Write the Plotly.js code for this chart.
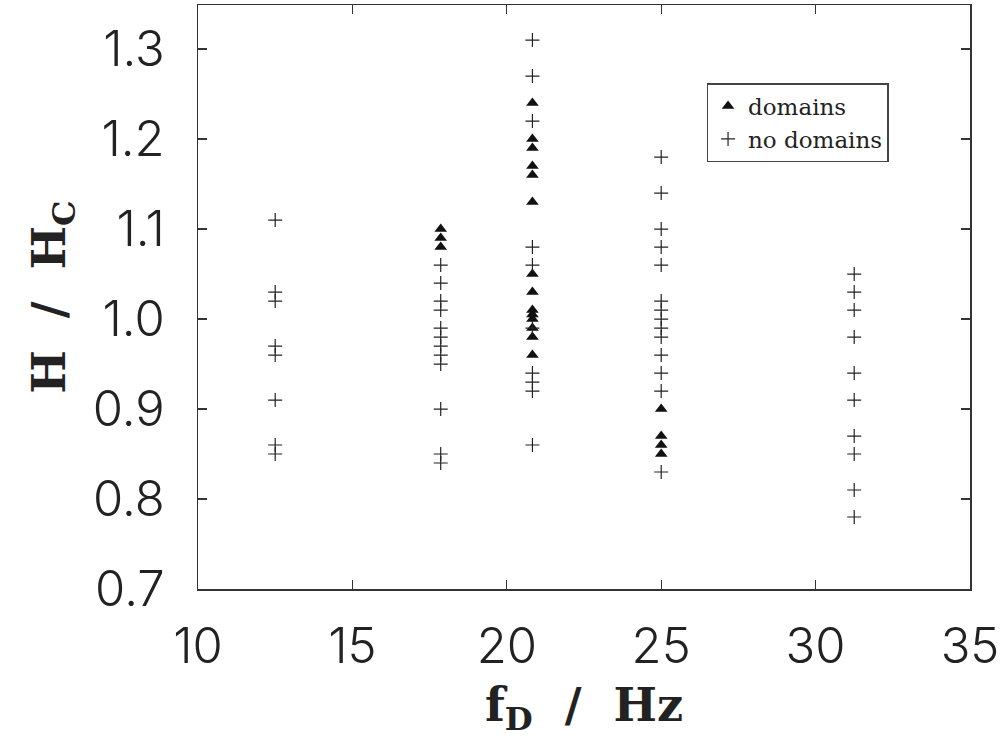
<!DOCTYPE html>
<html>
<head>
<meta charset="utf-8">
<script src="https://cdn.plot.ly/plotly-3.0.1.min.js"></script>
<style>html,body{margin:0;padding:0;background:#fff;}#chart{width:1003px;height:750px;}</style>
</head>
<body>
<div id="chart"></div>
<script>
// frequencies (Hz)
const freqDomains = [17.86,17.86,17.86,
  20.83,20.83,20.83,20.83,20.83,20.83,20.83,20.83,20.83,20.83,20.83,20.83,20.83,20.83,
  25,25,25,25];
const hDomains = [1.10,1.09,1.08,
  1.24,1.20,1.19,1.17,1.16,1.13,1.05,1.03,1.01,1.00,0.99,0.98,0.96,1.005,
  0.90,0.87,0.86,0.85];

const freqNoDomains = [12.5,12.5,12.5,12.5,12.5,12.5,12.5,12.5,
  17.86,17.86,17.86,17.86,17.86,17.86,17.86,17.86,17.86,17.86,17.86,17.86,
  20.83,20.83,20.83,20.83,20.83,20.83,20.83,20.83,20.83,20.83,
  25,25,25,25,25,25,25,25,25,25,25,25,25,25,
  31.25,31.25,31.25,31.25,31.25,31.25,31.25,31.25,31.25,31.25];
const hNoDomains = [1.11,1.03,1.02,0.97,0.96,0.91,0.86,0.85,
  1.06,1.04,1.02,1.01,0.99,0.98,0.97,0.96,0.95,0.90,0.85,0.84,
  1.31,1.27,1.22,1.08,1.06,0.99,0.94,0.93,0.92,0.86,
  1.18,1.14,1.10,1.08,1.06,1.02,1.01,1.00,0.99,0.98,0.96,0.94,0.92,0.83,
  1.05,1.03,1.01,0.98,0.94,0.91,0.87,0.85,0.81,0.78];

const xTicks = [10,15,20,25,30,35];
const yTicks = [0.7,0.8,0.9,1.0,1.1,1.2,1.3];
const yTickText = ['0.7','0.8','0.9','1.0','1.1','1.2','1.3'];

const traces = [
  {x: freqDomains, y: hDomains, mode:'markers', type:'scatter', name:'domains',
   marker:{symbol:'triangle-up', size:11, color:'#111'}},
  {x: freqNoDomains, y: hNoDomains, mode:'markers', type:'scatter', name:'no domains',
   marker:{symbol:'cross-thin-open', size:10, color:'#222', line:{width:1.2, color:'#222'}}}
];

const tickFont = {family:'Inter, "DejaVu Sans", sans-serif', size:49, color:'#222', weight:300};
const titleFont = {family:'"DejaVu Serif", "Liberation Serif", serif', size:46, color:'#222', weight:'bold'};

const layout = {
  width:1003, height:750,
  margin:{l:198, r:33, t:5, b:161},
  paper_bgcolor:'#fff', plot_bgcolor:'#fff',
  showlegend:true,
  legend:{x:0.659, y:0.866, xanchor:'left', yanchor:'top', bgcolor:'#fff',
    bordercolor:'#444', borderwidth:1.3,
    font:{family:'"DejaVu Serif", "Liberation Serif", serif', size:23, color:'#222'},
    tracegroupgap:0, itemwidth:30},
  xaxis:{range:[10,35], tickvals:xTicks, ticks:'inside', ticklen:9, tickwidth:1.2, tickcolor:'#333',
    mirror:'allticks', showline:true, linecolor:'#333', linewidth:1.5, showgrid:false, zeroline:false,
    tickfont:tickFont, ticklabelstandoff:14,
    title:{text:'f<sub>D</sub> &nbsp;/&nbsp; Hz', font:titleFont, standoff:14}},
  yaxis:{range:[0.7,1.349], tickvals:yTicks, ticktext:yTickText, ticks:'inside', ticklen:9, tickwidth:1.2, tickcolor:'#333',
    mirror:'allticks', showline:true, linecolor:'#333', linewidth:1.5, showgrid:false, zeroline:false,
    tickfont:tickFont, ticklabelstandoff:22,
    title:{text:'H &nbsp;/&nbsp; H<sub>C</sub>', font:titleFont, standoff:12}}
};

Plotly.newPlot('chart', traces, layout, {staticPlot:true, displayModeBar:false});
</script>
</body>
</html>
